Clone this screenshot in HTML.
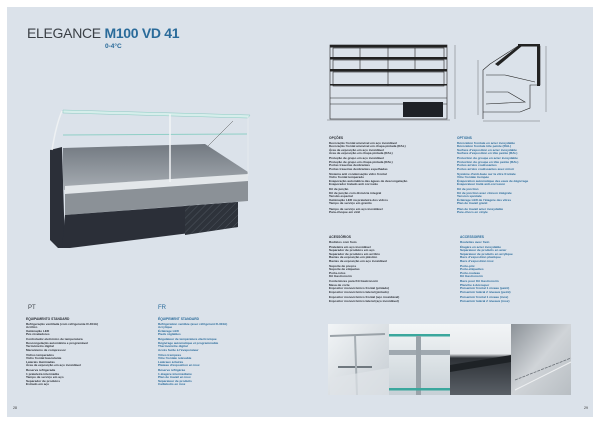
<!DOCTYPE html>
<html><head><meta charset="utf-8"><style>
*{margin:0;padding:0;box-sizing:border-box}
body{width:600px;height:424px;background:#fff;position:relative;overflow:hidden;font-family:"Liberation Sans",sans-serif}
#panel{position:absolute;left:7px;top:7px;width:586px;height:410px;background:#dbe2ea}
.t{position:absolute;font-size:3.1px;line-height:3.5px;color:#2b2f36;white-space:nowrap;font-weight:bold}
.b{color:#2a6b9a}
.g{height:1.6px}
.h{font-size:3.3px;margin-bottom:1.2px}
</style></head><body>
<div id="panel"></div>
<div style="position:absolute;left:27px;top:25px;font-size:14px;color:#3a3f45;letter-spacing:-0.3px">ELEGANCE <b style="color:#2a6b9a">M100 VD 41</b></div>
<div style="position:absolute;left:105px;top:43px;font-size:6.5px;font-weight:bold;color:#2a6b9a">0-4°C</div>

<svg style="position:absolute;left:0;top:0" width="600" height="424">
<defs>
<linearGradient id="pan" x1="0" y1="0" x2="0" y2="1"><stop offset="0" stop-color="#727981"/><stop offset="1" stop-color="#a7adb3"/></linearGradient>
<pattern id="grid" width="5" height="5" patternUnits="userSpaceOnUse" patternTransform="rotate(45)"><rect width="5" height="5" fill="#2e333b"/><line x1="0" y1="0" x2="0" y2="5" stroke="#555c66" stroke-width="0.8"/></pattern>
<linearGradient id="p1" x1="0" y1="0" x2="1" y2="1"><stop offset="0" stop-color="#f2f5f7"/><stop offset="1" stop-color="#c5ccd2"/></linearGradient>
<linearGradient id="p2" x1="0" y1="0" x2="0" y2="1"><stop offset="0" stop-color="#f3f6f7"/><stop offset="1" stop-color="#c7d0d6"/></linearGradient>
<linearGradient id="p3" x1="0" y1="0" x2="0" y2="1"><stop offset="0" stop-color="#f2f4f6"/><stop offset="0.42" stop-color="#e6e9ec"/><stop offset="0.48" stop-color="#2e3237"/><stop offset="1" stop-color="#5a6067"/></linearGradient>
<linearGradient id="p4" x1="0" y1="0" x2="1" y2="1"><stop offset="0" stop-color="#8c9298"/><stop offset="0.5" stop-color="#d0d4d8"/><stop offset="1" stop-color="#b8bec3"/></linearGradient>
</defs>
<!-- showcase -->
<polygon points="50,150 62,147 65,248 58,248 50,240" fill="#2b2f38"/>
<polygon points="63,148 205,144 248,172 248,178 63,190" fill="url(#pan)"/>
<polygon points="65,186 248,174 248,181 65,194" fill="#e3e7ea"/>
<polygon points="65,194 248,181 248,201 65,215" fill="#8b9197"/>
<polygon points="65,215 238,202 238,227 70,248 62,248" fill="#2b2f38"/>
<polygon points="185,206 238,202 238,227 185,235" fill="url(#grid)"/>
<polygon points="63,110 250,115 248,118 63,113" fill="#d6eeeb" stroke="#8bc9c2" stroke-width="0.5"/>
<line x1="63" y1="135" x2="247" y2="134" stroke="#8fcfc6" stroke-width="1"/>
<path d="M62,111 Q56,125 52,150" stroke="#eef1f3" stroke-width="1.5" fill="none"/>
<line x1="248" y1="116" x2="248" y2="176" stroke="#e8ecef" stroke-width="0.8"/>
<line x1="170" y1="114" x2="170" y2="182" stroke="#f2f4f6" stroke-width="1.5"/>
<line x1="233" y1="121" x2="208" y2="146" stroke="#555" stroke-width="0.5"/>
<!-- front drawing -->
<g fill="none" stroke="#222" stroke-width="0.6">
<rect x="330" y="45" width="117" height="74"/>
<rect x="333" y="48" width="111" height="10"/>
<rect x="333" y="60" width="111" height="10"/>
<rect x="333" y="72" width="111" height="14"/>
<line x1="388" y1="45" x2="388" y2="86"/>
<line x1="360" y1="48" x2="360" y2="70"/>
<line x1="415" y1="48" x2="415" y2="70"/>
<line x1="330" y1="98" x2="447" y2="98"/>
<line x1="330" y1="104" x2="447" y2="104"/>
<line x1="327" y1="120" x2="450" y2="120" stroke-width="0.3"/>
<line x1="455" y1="45" x2="455" y2="119" stroke-width="0.3"/>
</g>
<rect x="330" y="45" width="117" height="2.5" fill="#222"/>
<rect x="330" y="57" width="117" height="2.5" fill="#222"/>
<rect x="330" y="69" width="117" height="2.5" fill="#222"/>
<rect x="330" y="84" width="117" height="1.5" fill="#222"/>
<rect x="403" y="102" width="40" height="15" fill="#1f2227"/>
<!-- side drawing -->
<g fill="none" stroke="#222" stroke-width="0.6">
<polyline points="483,119 483,70 490,64 518,46 540,46 540,85 530,85 530,108 520,112 483,112"/>
<polyline points="486,75 505,75 535,82"/>
<polyline points="486,92 508,92 525,102 486,104"/>
<line x1="478" y1="60" x2="478" y2="115" stroke-width="0.3"/>
<line x1="546" y1="46" x2="546" y2="112" stroke-width="0.3"/>
<line x1="483" y1="121" x2="540" y2="121" stroke-width="0.3"/>
</g>
<polygon points="495,64 518,46 522,46 498,66" fill="#222"/>
<rect x="518" y="44" width="22" height="2.5" fill="#222"/>
<rect x="537" y="46" width="3" height="40" fill="#222"/>
<!-- photos -->
<rect x="328" y="324" width="61" height="71" fill="url(#p1)"/>
<rect x="389" y="324" width="61" height="71" fill="url(#p2)"/>
<rect x="450" y="324" width="61" height="71" fill="url(#p3)"/>
<rect x="511" y="324" width="60" height="71" fill="url(#p4)"/>
<line x1="330" y1="336" x2="385" y2="334" stroke="#9aa2a8" stroke-width="2"/>
<line x1="338" y1="367" x2="372" y2="367" stroke="#6f787f" stroke-width="2"/>
<line x1="355" y1="336" x2="357" y2="395" stroke="#a6aeb4" stroke-width="2"/>
<polygon points="330,378 389,368 389,395 330,395" fill="#dfe4e8" opacity="0.7"/>
<rect x="389" y="334" width="61" height="2.5" fill="#3aa79d"/>
<rect x="389" y="350" width="61" height="5" fill="#a0a9b0"/>
<rect x="416" y="336" width="5" height="59" fill="#9aa3aa"/>
<rect x="389" y="388" width="61" height="2.5" fill="#3aa79d"/>
<polygon points="450,365 511,355 511,362 450,372" fill="#1e2226"/>
<line x1="515" y1="390" x2="571" y2="362" stroke="#eef0f2" stroke-width="1"/>
<line x1="515" y1="380" x2="571" y2="358" stroke="#6a7077" stroke-width="0.8" stroke-dasharray="3,1"/>
</svg>

<div class="t" style="left:329px;top:137px">
<div class="h">OPÇÕES</div>
Decoração frontal amovível em aço inoxidável<br>Decoração frontal amovível em chapa pintada (RAL)<br>Área de exposição em aço inoxidável<br>Área de exposição em chapa pintada (RAL)<div class="g"></div>
Proteção de grupo em aço inoxidável<br>Proteção de grupo em chapa pintada (RAL)<br>Portas traseiras deslizantes<br>Portas traseiras deslizantes espelhadas<div class="g"></div>
Sistema anti condensação vidro frontal<br>Vidro frontal temperado<br>Evaporação automática das águas de descongelação<br>Evaporador tratado anti corrosão<div class="g"></div>
Kit de junção<br>Kit de junção com divisória integral<br>Tensão especial<br>Iluminação LED na prateleira dos vidros<br>Tampo de serviço em granito<div class="g"></div>
Tampo de serviço em aço inoxidável<br>Para-choque em vinil
</div>
<div class="t b" style="left:457px;top:137px">
<div class="h">OPTIONS</div>
Décoration frontale en acier inoxydable<br>Décoration frontale tôle peinte (RAL)<br>Surface d'exposition en acier inoxydable<br>Surface d'exposition en tôle peinte (RAL)<div class="g"></div>
Protection du groupe en acier inoxydable<br>Protection du groupe en tôle peinte (RAL)<br>Portes arrière coulissantes<br>Portes arrière coulissantes avec miroir<div class="g"></div>
Système d'anti-buée sur la vitre frontale<br>Vitre frontale trempée<br>Évaporation automatique des eaux de dégivrage<br>Évaporateur traité anti-corrosion<div class="g"></div>
Kit de jonction<br>Kit de jonction avec cloison intégrale<br>Tension spéciale<br>Éclairage LED de l'étagère des vitres<br>Plan de travail granit<div class="g"></div>
Plan de travail acier inoxydable<br>Pare-chocs en vinyle
</div>

<div class="t" style="left:329px;top:236px">
<div class="h">ACESSÓRIOS</div>
Rodízios com freio<div class="g"></div>
Prateleira em aço inoxidável<br>Separador de produtos em aço<br>Separador de produtos em acrílico<br>Bacias de exposição em plástico<br>Bacias de exposição em aço inoxidável<div class="g"></div>
Suporte de preços<br>Suporte de etiquetas<br>Porta-rolos<br>Kit Gastronorm<div class="g"></div>
Contentores para Kit Gastronorm<br>Mesa de corte<br>Expositor monocrómico frontal (pintado)<br>Expositor monocrómico lateral (pintado)<div class="g"></div>
Expositor monocrómico frontal (aço inoxidável)<br>Expositor monocrómico lateral (aço inoxidável)
</div>
<div class="t b" style="left:460px;top:236px">
<div class="h">ACCESSOIRES</div>
Roulettes avec frein<div class="g"></div>
Étagère en acier inoxydable<br>Séparateur de produits en acier<br>Séparateur de produits en acrylique<br>Bacs d'exposition plastique<br>Bacs d'exposition inox<div class="g"></div>
Porte-prix<br>Porte-étiquettes<br>Porte-rouleau<br>Kit Gastronorm<div class="g"></div>
Bacs pour Kit Gastronorm<br>Planche à découper<br>Présentoir frontal 1 niveau (peint)<br>Présentoir latéral 2 niveaux (peint)<div class="g"></div>
Présentoir frontal 1 niveau (inox)<br>Présentoir latéral 2 niveaux (inox)
</div>

<div style="position:absolute;left:28px;top:305px;font-size:6px;color:#3a3f45">PT</div>
<div style="position:absolute;left:158px;top:305px;font-size:6px;color:#2a6b9a">FR</div>
<div class="t" style="left:26px;top:318px">
<div class="h">EQUIPAMENTO STANDARD</div>
Refrigeração ventilada (com refrigerante R-404A)<br>Acrílico<br>Iluminação LED<br>Pés niveladores<div class="g"></div>
Controlador eletrónico de temperatura<br>Descongelação automática e programável<br>Termómetro digital<br>Mecanismo de compressor<div class="g"></div>
Vidros temperados<br>Vidro frontal basculante<br>Laterais iluminadas<br>Área de exposição em aço inoxidável<div class="g"></div>
Reserva refrigerada<br>1 prateleira intermédia<br>Tampo de serviço em aço<br>Separador de produtos<br>Estrado em aço
</div>
<div class="t b" style="left:158px;top:318px">
<div class="h">ÉQUIPEMENT STANDARD</div>
Réfrigération ventilée (avec réfrigérant R-404A)<br>Acrylique<br>Éclairage LED<br>Pieds réglables<div class="g"></div>
Régulateur de température électronique<br>Dégivrage automatique et programmable<br>Thermomètre digital<br>Accès facile à l'évaporateur<div class="g"></div>
Vitres trempées<br>Vitre frontale relevable<br>Latéraux éclairés<br>Plateau d'exposition en inox<div class="g"></div>
Réserve réfrigérée<br>1 étagère intermédiaire<br>Plan de travail en inox<br>Séparateur de produits<br>Caillebotis en inox
</div>

<div style="position:absolute;left:13px;top:406px;font-size:3.5px;color:#333">28</div>
<div style="position:absolute;left:584px;top:406px;font-size:3.5px;color:#333">29</div>
</body></html>
